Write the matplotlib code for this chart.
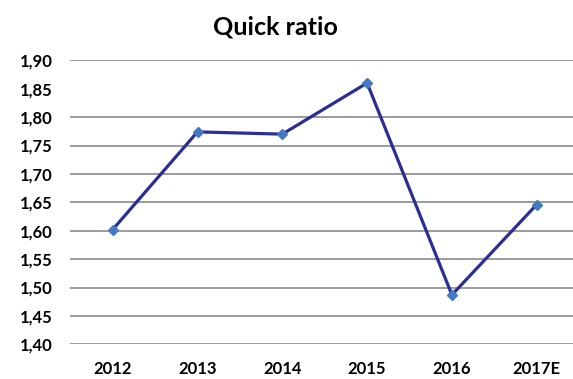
import matplotlib
matplotlib.use("Agg")
import matplotlib.pyplot as plt

years = ["2012", "2013", "2014", "2015", "2016", "2017E"]
quick_ratio = [1.602, 1.774, 1.770, 1.860, 1.487, 1.646]
y_ticks = [1.40, 1.45, 1.50, 1.55, 1.60, 1.65, 1.70, 1.75, 1.80, 1.85, 1.90]
y_tick_labels = ["1,40", "1,45", "1,50", "1,55", "1,60", "1,65", "1,70", "1,75", "1,80", "1,85", "1,90"]
title = "Quick ratio"

plt.rcParams['font.family'] = ['Lato', 'DejaVu Sans']

fig = plt.figure(figsize=(5.73, 3.79), dpi=100)
ax = fig.add_axes([70.3 / 573, (379 - 344.3) / 379, (579.1 - 70.3) / 573, 284 / 379])

x = list(range(len(years)))
ax.plot(x, quick_ratio, color="#2B2E96", lw=2.3, marker="D", markersize=5,
        markerfacecolor="#4479C4", markeredgecolor="#4479C4", zorder=3)

ax.set_xlim(-0.5, len(years) - 0.5)
ax.set_ylim(1.40, 1.90)
ax.set_yticks(y_ticks)
ax.set_yticklabels(y_tick_labels, fontsize=12, fontweight="bold")
ax.set_xticks(x)
ax.set_xticklabels(years, fontsize=12, fontweight="bold")
ax.tick_params(axis="y", length=0, pad=13)
ax.tick_params(axis="x", length=0, pad=12)

ax.yaxis.grid(True, color="#8a8a8a", lw=1.2)
ax.set_axisbelow(True)
for tick_val, gl in zip(y_ticks, ax.yaxis.get_gridlines()):
    if abs(tick_val - 1.85) < 1e-9:
        gl.set_visible(False)

for s in ax.spines.values():
    s.set_visible(False)

fig.text(275 / 573, 1 - 27 / 379, title, ha="center", va="center",
         fontsize=18, fontweight="bold")

fig.savefig("out.png", dpi=100)
